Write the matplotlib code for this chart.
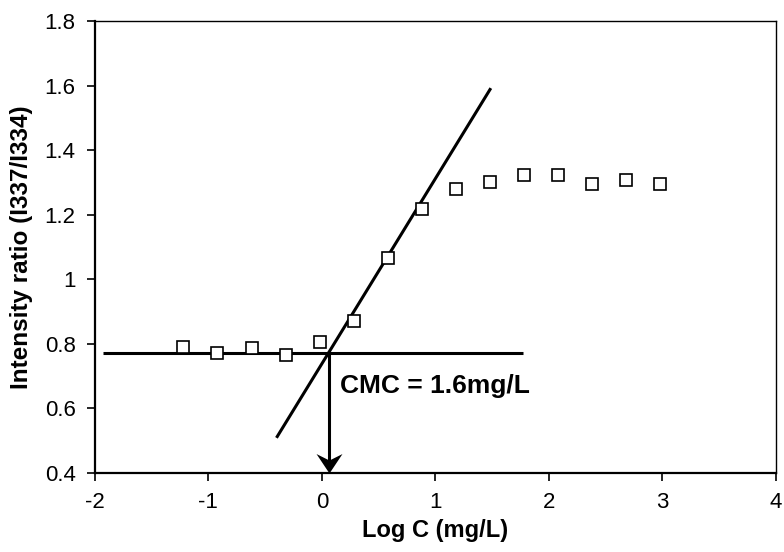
import matplotlib
matplotlib.use("Agg")
import matplotlib.pyplot as plt
from matplotlib.path import Path

# Data
log_c = [-1.22, -0.92, -0.62, -0.32, -0.02, 0.28, 0.58, 0.88, 1.18, 1.48, 1.78, 2.08, 2.38, 2.68, 2.98]
ratio = [0.790, 0.771, 0.788, 0.765, 0.805, 0.872, 1.065, 1.217, 1.280, 1.301, 1.322, 1.322, 1.296, 1.307, 1.296]

# fitted lines
flat_x = [-1.93, 1.77]
flat_y = [0.771, 0.771]
slope_x = [-0.40, 1.49]
slope_y = [0.509, 1.592]

cmc_x = 0.065
cmc_y = 0.771
cmc_label = "CMC = 1.6mg/L"

x_ticks = [-2, -1, 0, 1, 2, 3, 4]
y_ticks = [0.4, 0.6, 0.8, 1.0, 1.2, 1.4, 1.6, 1.8]
y_tick_labels = ["0.4", "0.6", "0.8", "1", "1.2", "1.4", "1.6", "1.8"]

plt.rcParams['font.family'] = ['Liberation Sans', 'DejaVu Sans']

fig = plt.figure(figsize=(7.84, 5.52), dpi=100)
ax = fig.add_axes([95.0/784, 79/552, (775.5-95.0)/784, (473-21)/552])

ax.plot(flat_x, flat_y, color='black', lw=2.2, solid_capstyle='butt')
ax.plot(slope_x, slope_y, color='black', lw=2.2, solid_capstyle='butt')
ax.plot(log_c, ratio, linestyle='none', marker='s', markersize=8.5,
        markerfacecolor='white', markeredgecolor='black', markeredgewidth=1.2)

# CMC arrow: shaft + notched (stealth) head
ax.plot([cmc_x, cmc_x], [cmc_y, 0.43], color='black', lw=2.2, solid_capstyle='butt')
stealth = Path([(0, 0), (-1, 1.5), (0, 1.0), (1, 1.5), (0, 0)],
               [Path.MOVETO, Path.LINETO, Path.LINETO, Path.LINETO, Path.CLOSEPOLY])
ax.plot([cmc_x], [0.4], linestyle='none', marker=stealth, markersize=28,
        color='black', markeredgewidth=0, clip_on=False, zorder=5)

ax.text(0.163, 0.670, cmc_label, fontsize=19, fontweight='bold', va='center', ha='left')

ax.set_xlim(-2, 4)
ax.set_ylim(0.4, 1.8)
ax.set_xticks(x_ticks)
ax.set_xticklabels([str(t) for t in x_ticks])
ax.set_yticks(y_ticks)
ax.set_yticklabels(y_tick_labels)
ax.tick_params(direction='out', length=6, width=1.2, labelsize=16, pad=8, color='black')
ax.set_xlabel('Log C (mg/L)', fontsize=17, fontweight='bold', labelpad=4)
ax.set_ylabel('Intensity ratio (I337/I334)', fontsize=17.5, fontweight='bold', labelpad=8)

ax.spines['left'].set_linewidth(1.6)
ax.spines['bottom'].set_linewidth(1.6)
ax.spines['top'].set_linewidth(1.0)
ax.spines['right'].set_linewidth(1.0)

fig.savefig('out.png', dpi=100)
